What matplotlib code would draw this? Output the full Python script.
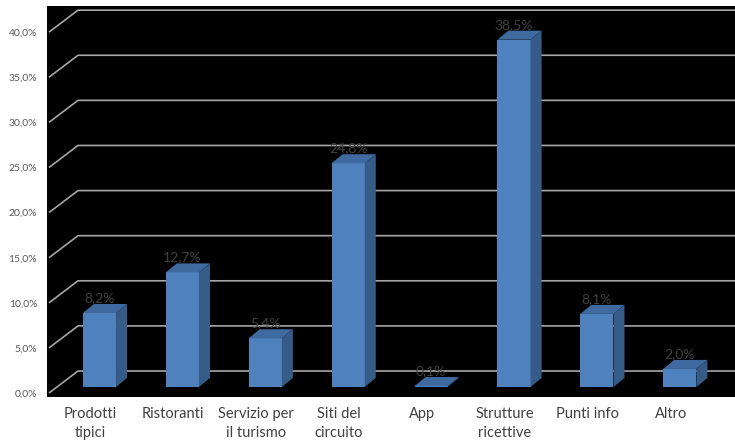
import numpy as np
import matplotlib
matplotlib.use('Agg')
import matplotlib.pyplot as plt
from matplotlib.patches import Polygon

plt.rcParams['font.family'] = ['Lato', 'DejaVu Sans']

# dati
categorie = ['Prodotti\ntipici', 'Ristoranti', 'Servizio per\nil turismo', 'Siti del\ncircuito',
             'App', 'Strutture\nricettive', 'Punti info', 'Altro']
valori = [8.2, 12.7, 5.4, 24.8, 0.1, 38.5, 8.1, 2.0]
etichette = ['8,2%', '12,7%', '5,4%', '24,8%', '0,1%', '38,5%', '8,1%', '2,0%']
tick_y = [0, 5, 10, 15, 20, 25, 30, 35, 40]

# geometria "3D" (unità dati)
BAR_W = 0.40
BAR_BASE = 0.67
BAR_DX, BAR_DY = 0.133, 1.0
WALL_X0, WALL_X1 = -0.609, -0.259
WALL_DY = 2.44

c_front = '#4f81bd'
c_top = '#3f6aa0'
c_side = '#375b87'
c_grid = '#a6a6a6'

W, H = 735, 443
fig = plt.figure(figsize=(W / 100, H / 100), dpi=100)
ax = fig.add_axes([47 / W, (H - 397) / H, (735 - 47) / W, (397 - 6) / H])
ax.set_facecolor('black')
ax.set_xlim(-0.633, 7.666)
ax.set_ylim(-0.44, 42.9)
for s in ax.spines.values():
    s.set_visible(False)

x = np.arange(len(categorie))

# griglia sulla parete di fondo + lato sinistro
for t in tick_y:
    ax.plot([WALL_X0, WALL_X1, 7.7], [t, t + WALL_DY, t + WALL_DY],
            color=c_grid, lw=1.2, zorder=1, clip_on=False, solid_capstyle='butt')

# barre
ax.bar(x, valori, width=BAR_W, bottom=BAR_BASE, color=c_front, zorder=3)
for xi, v in zip(x, valori):
    l, r = xi - BAR_W / 2, xi + BAR_W / 2
    top = BAR_BASE + v
    ax.add_patch(Polygon([(l, top), (r, top), (r + BAR_DX, top + BAR_DY), (l + BAR_DX, top + BAR_DY)],
                         closed=True, facecolor=c_top, edgecolor='none', zorder=3))
    ax.add_patch(Polygon([(r, BAR_BASE), (r + BAR_DX, BAR_BASE + BAR_DY),
                          (r + BAR_DX, top + BAR_DY), (r, top)],
                         closed=True, facecolor=c_side, edgecolor='none', zorder=3))

for xi, v, lab in zip(x, valori, etichette):
    ax.text(xi, BAR_BASE + v + BAR_DY + 0.2, lab, ha='center', va='baseline',
            fontsize=10, color='#404040', zorder=4)

ax.set_yticks(tick_y)
ax.set_yticklabels([f'{t:.1f}%'.replace('.', ',') for t in tick_y])
ax.tick_params(axis='y', length=0, pad=7, labelsize=7.5, labelcolor='#595959')

ax.set_xticks(x - 0.11)
ax.set_xticklabels(categorie, linespacing=1.45)
ax.tick_params(axis='x', length=0, pad=7, labelsize=10.5, labelcolor='#404040')

fig.savefig('out.png', dpi=100, facecolor='white')
